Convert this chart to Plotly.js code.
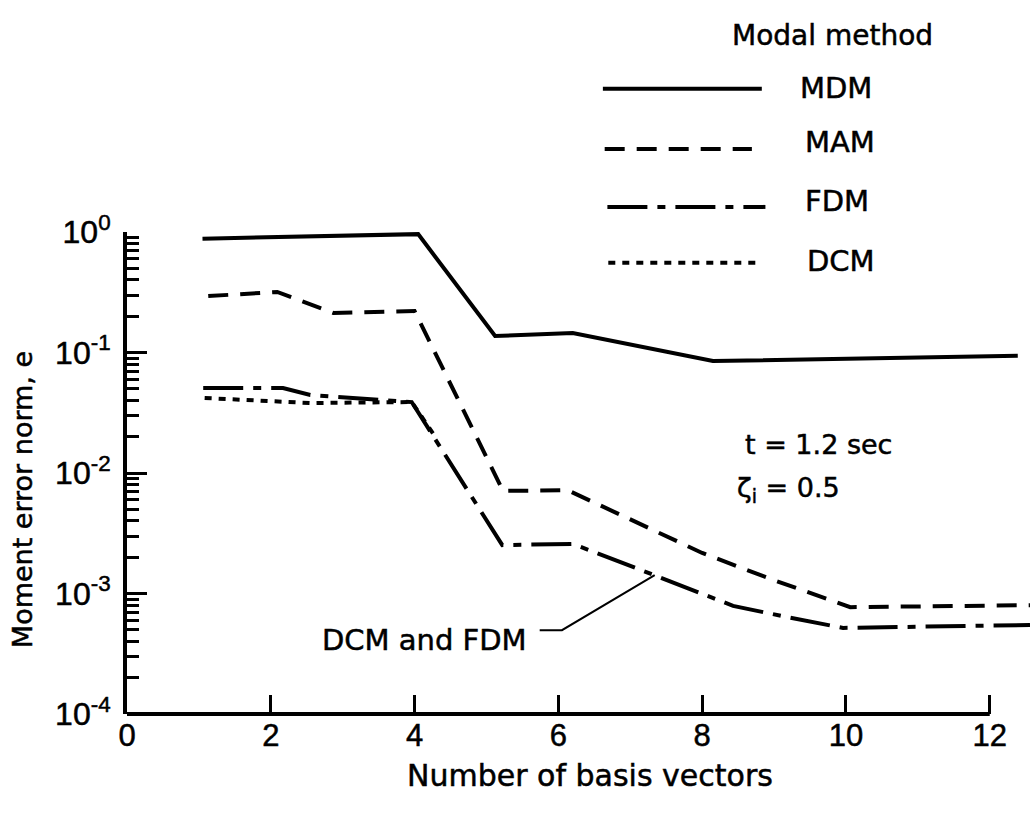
<!DOCTYPE html>
<html>
<head>
<meta charset="utf-8">
<script src="https://cdn.plot.ly/plotly-3.0.1.min.js"></script>
<style>
html, body { margin: 0; padding: 0; background: #fff; }
#chart { width: 1030px; height: 815px; }
#chart svg text { stroke: #000; stroke-width: 0.5px; }
</style>
</head>
<body>
<div id="chart"></div>
<script>
// ---- Data ----
const methodNames = ["MDM", "MAM", "FDM", "DCM"];

const mdmX = [1.05, 4.05, 5.12, 6.2, 8.15, 12.39];
const mdmY = [0.88, 0.96, 0.137, 0.145, 0.085, 0.094];

const mamX = [1.13, 2.09, 2.87, 4.0, 5.23, 6.13, 8.0, 9.0, 10.06, 12.56];
const mamY = [0.294, 0.318, 0.213, 0.221, 0.0071, 0.0072, 0.00217, 0.00129, 0.00077, 0.0008];

const fdmX = [1.06, 2.17, 2.55, 3.96, 5.22, 6.2, 7.32, 8.43, 9.22, 9.96, 12.56];
const fdmY = [0.0507, 0.0507, 0.0444, 0.0388, 0.00252, 0.00258, 0.00143, 0.00079, 0.00063, 0.000518, 0.000548];

const dcmX = [1.08, 2.55, 3.96, 4.3];
const dcmY = [0.0419, 0.0381, 0.0388, 0.0195];

const xTickVals = [0, 2, 4, 6, 8, 10, 12];
const xTickText = ["0", "2", "4", "6", "8", "10", "12"];
const yTickVals = [1e-4, 1e-3, 1e-2, 1e-1, 1];
const yTickText = ["10<sup>-4</sup>", "10<sup>-3</sup>", "10<sup>-2</sup>", "10<sup>-1</sup>", "10<sup>0</sup>"];
const minorDecades = [-4, -3, -2, -1];
const minorMultipliers = [2, 3, 4, 5, 6, 7, 8, 9];

const legendTitle = "Modal method";
const xTitle = "Number of basis vectors";
const yTitle = "Moment error norm, e";
const noteTime = "t = 1.2 sec";
const noteDamp = "ζ<sub>i</sub> = 0.5";
const noteCurve = "DCM and FDM";

// ---- Styling ----
const dashes = ["solid", "20px,12px", "40px,10px,8px,10px", "7px,7px"];
const LW = 4;
const TXT = "DejaVu Sans, Liberation Sans, Arial, sans-serif";
const NUM = "Liberation Sans, Arial, sans-serif";

const minorVals = [];
minorDecades.forEach(k => minorMultipliers.forEach(m => minorVals.push(m * Math.pow(10, k))));

const series = [[mdmX, mdmY], [mamX, mamY], [fdmX, fdmY], [dcmX, dcmY]];
const traces = series.map((s, i) => ({
  x: s[0], y: s[1], type: "scatter", mode: "lines", name: methodNames[i],
  line: { color: "#000", width: LW, dash: dashes[i] }, showlegend: false, hoverinfo: "skip"
}));

// legend (drawn manually with long sample lines)
const legY = [1.297, 1.172, 1.052, 0.936];
const legX0 = [0.527, 0.529, 0.532, 0.533];
const legX1 = [0.703, 0.692, 0.707, 0.701];
const legLabelX = [0.743, 0.749, 0.749, 0.751];
const legLabelY = [1.299, 1.187, 1.064, 0.940];

const shapes = [];
methodNames.forEach((n, i) => {
  shapes.push({ type: "line", xref: "paper", yref: "paper", x0: legX0[i], x1: legX1[i], y0: legY[i], y1: legY[i],
    line: { color: "#000", width: LW, dash: dashes[i] } });
});
// bottom axis line, ending at x = 12
shapes.push({ type: "line", xref: "x", yref: "paper", x0: 0, x1: 12, y0: 0, y1: 0, line: { color: "#000", width: 4 } });
// leader line for "DCM and FDM"
shapes.push({ type: "path", xref: "x", yref: "paper", path: "M 5.74 0.174 L 6.05 0.174 L 7.34 0.288",
  line: { color: "#000", width: 2 } });

const annotations = [];
annotations.push({ text: legendTitle, xref: "paper", yref: "paper", x: 0.781, y: 1.407, xanchor: "center", yanchor: "middle",
  showarrow: false, font: { family: TXT, size: 28, color: "#000" } });
methodNames.forEach((n, i) => {
  annotations.push({ text: n, xref: "paper", yref: "paper", x: legLabelX[i], y: legLabelY[i], xanchor: "left", yanchor: "middle",
    showarrow: false, font: { family: TXT, size: 29, color: "#000" } });
});
annotations.push({ text: noteTime, xref: "paper", yref: "paper", x: 0.682, y: 0.560, xanchor: "left", yanchor: "middle",
  showarrow: false, font: { family: TXT, size: 27, color: "#000" } });
annotations.push({ text: noteDamp, xref: "paper", yref: "paper", x: 0.673, y: 0.465, xanchor: "left", yanchor: "middle",
  showarrow: false, font: { family: TXT, size: 27, color: "#000" } });
annotations.push({ text: noteCurve, xref: "paper", yref: "paper", x: 0.329, y: 0.154, xanchor: "center", yanchor: "middle",
  showarrow: false, font: { family: TXT, size: 29, color: "#000" } });
annotations.push({ text: xTitle, xref: "paper", yref: "paper", x: 0.513, y: -0.127, xanchor: "center", yanchor: "middle",
  showarrow: false, font: { family: TXT, size: 30, color: "#000" } });
annotations.push({ text: yTitle, xref: "paper", yref: "paper", x: -0.115, y: 0.444, xanchor: "center", yanchor: "middle",
  textangle: -90, showarrow: false, font: { family: TXT, size: 27, color: "#000" } });

const layout = {
  width: 1030, height: 815,
  margin: { l: 127, r: 0, t: 232, b: 101, pad: 0 },
  paper_bgcolor: "#fff", plot_bgcolor: "#fff",
  showlegend: false,
  xaxis: {
    type: "linear", range: [0, 12.56], showline: false, showgrid: false, zeroline: false,
    tickmode: "array", tickvals: xTickVals, ticktext: xTickText,
    ticks: "inside", ticklen: 19, tickwidth: 3, tickcolor: "#000",
    tickfont: { family: NUM, size: 31, color: "#000" }
  },
  yaxis: {
    type: "log", range: [-4, 0], showline: true, linewidth: 4, linecolor: "#000", mirror: false,
    showgrid: false, zeroline: false,
    tickmode: "array", tickvals: yTickVals, ticktext: yTickText,
    ticks: "inside", ticklen: 20, tickwidth: 3, tickcolor: "#000", ticklabelstandoff: 6,
    tickfont: { family: NUM, size: 32, color: "#000" },
    minor: { tickmode: "array", tickvals: minorVals, ticks: "inside", ticklen: 12, tickwidth: 3, tickcolor: "#000", showgrid: false }
  },
  shapes: shapes,
  annotations: annotations
};

Plotly.newPlot("chart", traces, layout, { staticPlot: true, displayModeBar: false });
</script>
</body>
</html>
